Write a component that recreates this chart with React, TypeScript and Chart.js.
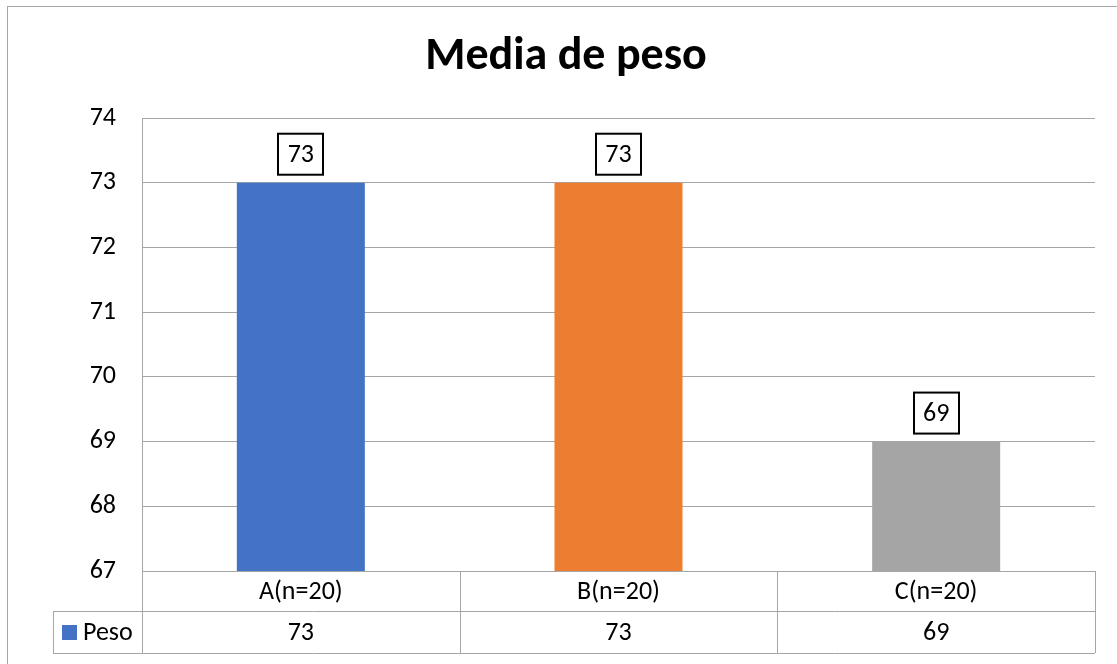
import React, { useEffect, useRef } from "react";
import { Chart, registerables } from "chart.js";

Chart.register(...registerables);

const chartTitle = "Media de peso";
const seriesName = "Peso";
const categories = ["A(n=20)", "B(n=20)", "C(n=20)"];
const pesoValues = [73, 73, 69];
const barColors = ["#4472C4", "#ED7D31", "#A5A5A5"];
const yMin = 67;
const yMax = 74;
const yStep = 1;

const FONT = "Carlito, Lato, sans-serif";
const LINE = "#A6A6A6";
const LABEL_SIZE = 26;

const tablePlugin = {
  id: "excelTable",
  afterDraw(chart: any) {
    const ctx = chart.ctx as CanvasRenderingContext2D;
    const area = chart.chartArea;
    const xs = chart.scales.x;
    const ys = chart.scales.y;
    const n = categories.length;
    const cw = (area.right - area.left) / n;
    ctx.save();

    // outer chart border
    ctx.strokeStyle = LINE;
    ctx.lineWidth = 1;
    ctx.strokeRect(7.5, 6.5, 1200, 700);

    // title
    ctx.fillStyle = "#000";
    ctx.font = `bold 46px ${FONT}`;
    ctx.textAlign = "center";
    ctx.textBaseline = "middle";
    ctx.fillText(chartTitle, 566, 57);

    // data labels with boxes
    ctx.font = `${LABEL_SIZE}px ${FONT}`;
    pesoValues.forEach((v, i) => {
      const cx = xs.getPixelForValue(i);
      const top = ys.getPixelForValue(v);
      const bw = 45, bh = 41;
      const by = top - 8 - bh;
      ctx.strokeStyle = "#000";
      ctx.lineWidth = 2;
      ctx.strokeRect(Math.round(cx - bw / 2), by, bw, bh);
      ctx.fillStyle = "#000";
      ctx.fillText(String(v), cx, by + bh / 2 + 1);
    });

    // data table
    const r0 = area.bottom;
    const r1 = r0 + 40;
    const r2 = r1 + 42;
    const legendLeft = 53;
    ctx.strokeStyle = LINE;
    ctx.lineWidth = 1;
    ctx.beginPath();
    ctx.moveTo(legendLeft, r1 + 0.5);
    ctx.lineTo(area.right, r1 + 0.5);
    ctx.moveTo(legendLeft, r2 + 0.5);
    ctx.lineTo(area.right, r2 + 0.5);
    ctx.moveTo(legendLeft + 0.5, r1);
    ctx.lineTo(legendLeft + 0.5, r2);
    for (let i = 0; i <= n; i++) {
      const x = Math.round(area.left + cw * i) + 0.5;
      ctx.moveTo(x, r0);
      ctx.lineTo(x, r2);
    }
    ctx.stroke();

    ctx.fillStyle = "#000";
    ctx.font = `${LABEL_SIZE}px ${FONT}`;
    ctx.textAlign = "center";
    ctx.textBaseline = "middle";
    categories.forEach((c, i) => {
      const cx = xs.getPixelForValue(i);
      ctx.fillText(c, cx, (r0 + r1) / 2 + 1);
      ctx.fillText(String(pesoValues[i]), cx, (r1 + r2) / 2 + 1);
    });

    // legend key
    ctx.fillStyle = barColors[0];
    ctx.fillRect(62, 625, 15, 15);
    ctx.fillStyle = "#000";
    ctx.textAlign = "left";
    ctx.fillText(seriesName, 83, (r1 + r2) / 2 + 1);
    ctx.restore();
  },
};

export default function App() {
  const ref = useRef<HTMLCanvasElement | null>(null);
  useEffect(() => {
    document.body.style.margin = "0";
    const canvas = ref.current!;
    const chart = new Chart(canvas, {
      type: "bar",
      data: {
        labels: categories,
        datasets: [
          {
            label: seriesName,
            data: pesoValues,
            backgroundColor: barColors,
            barPercentage: 0.403,
            categoryPercentage: 1,
          },
        ],
      },
      options: {
        animation: false,
        responsive: false,
        devicePixelRatio: 1,
        layout: { padding: { left: 0, top: 118, right: 22, bottom: 93 } },
        plugins: {
          legend: { display: false },
          tooltip: { enabled: false },
          title: { display: false },
        },
        scales: {
          x: { display: false },
          y: {
            min: yMin,
            max: yMax,
            ticks: {
              stepSize: yStep,
              color: "#000",
              padding: 26,
              font: { family: FONT, size: LABEL_SIZE },
            },
            grid: { color: LINE, drawTicks: false, lineWidth: 1 },
            border: { display: true, color: LINE },
            afterFit: (s: any) => {
              s.width = 142;
            },
          },
        },
      },
      plugins: [tablePlugin],
    });
    return () => chart.destroy();
  }, []);
  return <canvas ref={ref} width={1117} height={664} style={{ display: "block" }} />;
}
